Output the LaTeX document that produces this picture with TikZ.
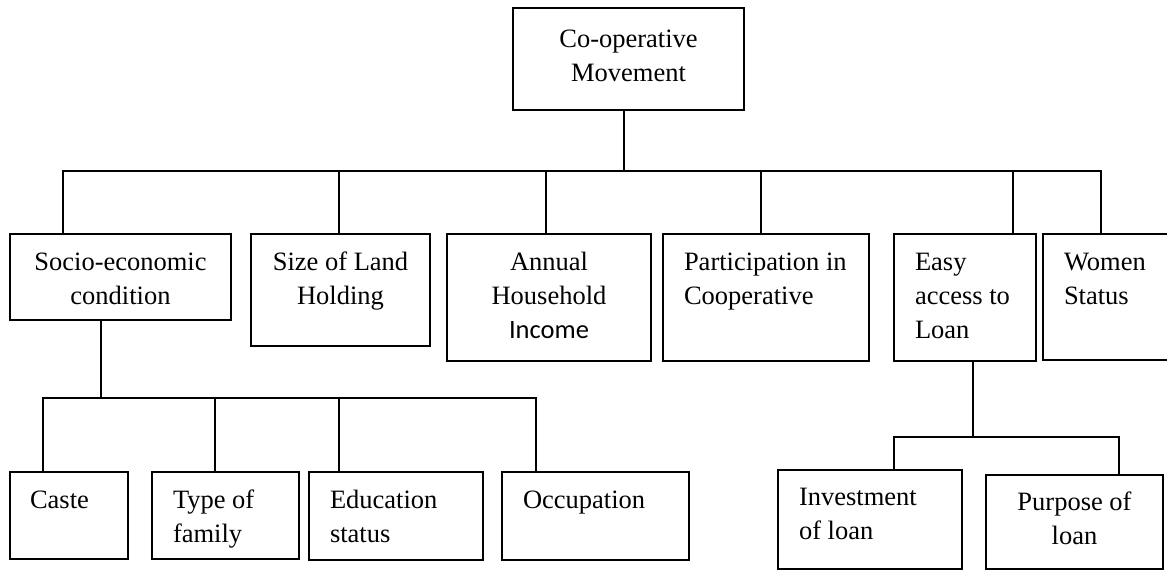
\documentclass[tikz,border=0pt]{standalone}
\usepackage{fontspec}
\setmainfont{Liberation Serif}
\newfontfamily\calib{Carlito}
\newcommand\lft[1]{\begin{tabular}[t]{@{}l@{}}#1\end{tabular}}
\newcommand\ctr[1]{\begin{tabular}[t]{@{}c@{}}#1\end{tabular}}
\newcommand\boxat[5]{\node[box,minimum width=#4pt,minimum height=#5pt] (#1) at (#2,#3) {};}
\begin{document}
\begin{tikzpicture}[x=1pt,y=-1pt,
  box/.style={draw,line width=1.8pt,rectangle,inner sep=0pt,outer sep=0pt},
  txt/.style={inner sep=0pt,outer sep=0pt,font=\fontsize{26.5}{34}\selectfont},
  conn/.style={line width=1.8pt}]
\useasboundingbox (0,0) rectangle (1167,571);
% boxes
\boxat{top}{628.5}{59}{231}{102}
\boxat{soc}{120.5}{277}{221}{86}
\boxat{size}{340.5}{290}{179}{112}
\boxat{ann}{549}{297.5}{204}{127}
\boxat{part}{766}{297.5}{206}{127}
\boxat{easy}{965}{297.5}{142}{127}
\boxat{wom}{1111.5}{297}{137}{126}
\boxat{caste}{69}{515.5}{118}{87}
\boxat{type}{225.5}{515.5}{147}{87}
\boxat{edu}{396}{516}{174}{88}
\boxat{occ}{595.5}{516}{187}{88}
\boxat{inv}{870}{519.5}{184}{99}
\boxat{pur}{1074.5}{522}{177}{94}
% texts
\node[txt,anchor=base] (topt) at (628.5,47) {\ctr{Co-operative\\Movement}};
\node[txt,anchor=base] (soct) at (120.5,270) {\ctr{Socio-economic\\condition}};
\node[txt,anchor=base] (sizet) at (340.5,270) {\ctr{Size of Land\\Holding}};
\node[txt,anchor=base] (annt) at (549,270) {\ctr{Annual\\Household\\{\calib Income}}};
\node[txt,anchor=base west] (partt) at (684,270) {\lft{Participation in\\Cooperative}};
\node[txt,anchor=base west] (easyt) at (915,270) {\lft{Easy\\access to\\Loan}};
\node[txt,anchor=base west] (womt) at (1064,270) {\lft{Women\\Status}};
\node[txt,anchor=base west] (castet) at (30,508) {Caste};
\node[txt,anchor=base west] (typet) at (173,508) {\lft{Type of\\family}};
\node[txt,anchor=base west] (edut) at (330,508) {\lft{Education\\status}};
\node[txt,anchor=base west] (occt) at (523,508) {Occupation};
\node[txt,anchor=base west] (invt) at (799,505) {\lft{Investment\\of loan}};
\node[txt,anchor=base] (purt) at (1074.5,510) {\ctr{Purpose of\\loan}};
% connectors level 1
\coordinate (h1) at (624,171);
\draw[conn] ([xshift=-4.5pt]top.south) -- (h1);
\draw[conn] (h1) -| ([xshift=53pt]soc.north west);
\draw[conn] (h1) -| ([xshift=88pt]size.north west);
\draw[conn] (h1) -| ([xshift=99pt]ann.north west);
\draw[conn] (h1) -| ([xshift=98pt]part.north west);
\draw[conn] (h1) -| ([xshift=119pt]easy.north west);
\draw[conn] (h1) -| ([xshift=58pt]wom.north west);
% socio sub-tree
\coordinate (h2) at (101,398);
\draw[conn] ([xshift=91pt]soc.south west) -- (h2);
\draw[conn] (h2) -| ([xshift=33pt]caste.north west);
\draw[conn] (h2) -| ([xshift=63pt]type.north west);
\draw[conn] (h2) -| ([xshift=30pt]edu.north west);
\draw[conn] (h2) -| ([xshift=34pt]occ.north west);
% loan sub-tree
\coordinate (h3) at (973,437);
\draw[conn] ([xshift=79pt]easy.south west) -- (h3);
\draw[conn] (h3) -| ([xshift=116pt]inv.north west);
\draw[conn] (h3) -| ([xshift=133pt]pur.north west);
\end{tikzpicture}
\end{document}
